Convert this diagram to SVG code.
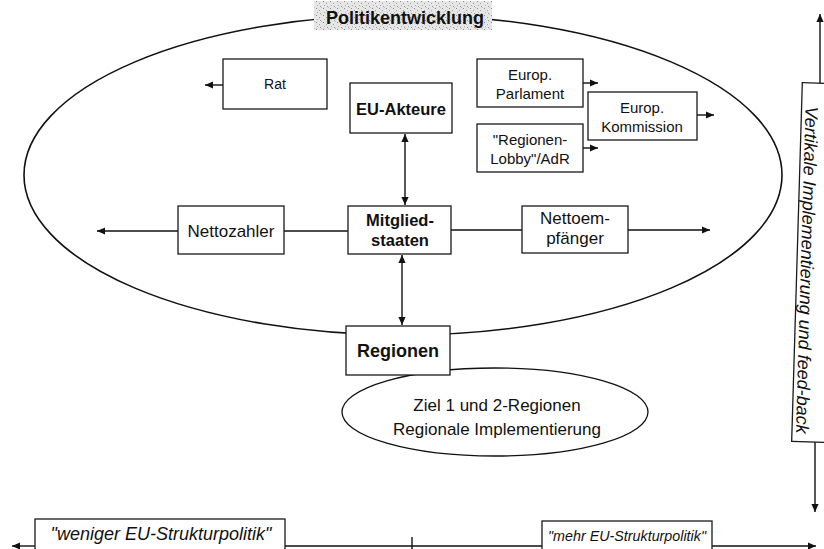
<svg xmlns="http://www.w3.org/2000/svg" width="824" height="549" viewBox="0 0 824 549">
<style>
  text { font-family: "Liberation Sans", Arial, sans-serif; fill: #111; text-anchor: middle; }
  .box { fill: #fff; stroke: #1a1a1a; stroke-width: 1.3; }
  .b { font-weight: bold; }
  .n14 { font-size: 14px; }
  .n15 { font-size: 15px; }
  .n17 { font-size: 17px; }
  .it { font-style: italic; }
  .ln { fill: none; stroke: #111; stroke-width: 1.4; }
  .arr { fill: none; stroke: #111; stroke-width: 1.4; marker-end: url(#ah); }
  .darr { fill: none; stroke: #111; stroke-width: 1.4; marker-start: url(#ah); marker-end: url(#ah); }
  .oval { fill: none; stroke: #111; stroke-width: 1.6; }
</style>
<defs>
  <marker id="ah" viewBox="0 0 10 10" refX="10" refY="5" markerWidth="9" markerHeight="8" orient="auto-start-reverse" markerUnits="userSpaceOnUse">
    <path d="M0,0.5 L10,5 L0,9.5 z" fill="#111"/>
  </marker>
  <pattern id="speck" width="7" height="7" patternUnits="userSpaceOnUse">
    <rect width="7" height="7" fill="#e6e6e6"/>
    <rect x="1" y="1" width="1" height="1" fill="#8a8a8a"/>
    <rect x="4" y="3" width="1" height="1" fill="#a0a0a0"/>
    <rect x="2" y="5" width="1" height="1" fill="#b0b0b0"/>
    <rect x="5" y="6" width="1" height="1" fill="#9a9a9a"/>
    <rect x="6" y="0" width="1" height="1" fill="#c0c0c0"/>
  </pattern>
</defs>

<rect width="824" height="549" fill="#fff"/>

<g id="politikentwicklung">
  <ellipse class="oval" cx="403" cy="175" rx="379" ry="160"/>
  <rect x="314" y="1" width="178" height="29" fill="url(#speck)"/>
  <text class="b" x="405" y="24" style="font-size:18px">Politikentwicklung</text>
</g>

<g id="connectors">
  <line class="arr" x1="223" y1="85" x2="205" y2="85"/>
  <line class="arr" x1="583" y1="83" x2="598" y2="83"/>
  <line class="arr" x1="697" y1="115" x2="714" y2="115"/>
  <line class="arr" x1="583" y1="148" x2="598" y2="148"/>
  <line class="darr" x1="405" y1="134" x2="405" y2="205"/>
  <line class="arr" x1="178" y1="231" x2="97" y2="231"/>
  <line class="ln" x1="284" y1="231" x2="348" y2="231"/>
  <line class="ln" x1="451" y1="230" x2="522" y2="230"/>
  <line class="arr" x1="628" y1="230" x2="710" y2="230"/>
  <line class="darr" x1="402" y1="255" x2="402" y2="325"/>
  <line class="arr" x1="820" y1="84" x2="820" y2="14"/>
  <line class="arr" x1="815" y1="442" x2="815" y2="512"/>
  <line class="arr" x1="35" y1="546" x2="12" y2="546"/>
  <line class="ln" x1="285" y1="546" x2="542" y2="546"/>
  <line class="ln" x1="412" y1="537" x2="412" y2="552"/>
  <line class="arr" x1="712" y1="546" x2="816" y2="546"/>
</g>

<g id="rat">
  <rect class="box" x="223" y="59" width="104" height="50"/>
  <text class="n14" x="275" y="89">Rat</text>
</g>

<g id="eu-akteure">
  <rect class="box" x="350" y="83" width="102" height="50"/>
  <text class="b" x="401" y="115" style="font-size:16.5px">EU-Akteure</text>
</g>

<g id="parlament">
  <rect class="box" x="477" y="59" width="106" height="48"/>
  <text class="n15" x="530" y="80">Europ.</text>
  <text class="n15" x="530" y="99">Parlament</text>
</g>

<g id="kommission">
  <rect class="box" x="588" y="92" width="109" height="48"/>
  <text class="n15" x="642" y="113">Europ.</text>
  <text class="n15" x="642" y="132">Kommission</text>
</g>

<g id="lobby">
  <rect class="box" x="477" y="124" width="106" height="48"/>
  <text class="n15" x="530" y="145">"Regionen-</text>
  <text class="n15" x="530" y="164">Lobby"/AdR</text>
</g>

<g id="nettozahler">
  <rect class="box" x="178" y="206" width="106" height="48"/>
  <text class="n17" x="231" y="237">Nettozahler</text>
</g>

<g id="mitgliedstaaten">
  <rect class="box" x="348" y="206" width="103" height="48"/>
  <text class="b" x="400" y="226" style="font-size:16.5px">Mitglied-</text>
  <text class="b" x="400" y="246" style="font-size:16.5px">staaten</text>
</g>

<g id="nettoempfaenger">
  <rect class="box" x="522" y="206" width="106" height="47"/>
  <text class="n17" x="575" y="224">Nettoem-</text>
  <text class="n17" x="575" y="244">pfänger</text>
</g>

<g id="ziel">
  <ellipse class="oval" cx="495" cy="412" rx="153" ry="44" style="stroke-width:1.3"/>
  <text class="n17" x="497" y="411">Ziel 1 und 2-Regionen</text>
  <text class="n17" x="497" y="435">Regionale Implementierung</text>
</g>

<g id="regionen">
  <rect class="box" x="346" y="326" width="104" height="49"/>
  <text class="b" x="398" y="357" style="font-size:18px">Regionen</text>
</g>

<g id="vertikal" transform="rotate(1.7 812 262)">
  <rect class="box" x="797" y="83" width="45" height="359"/>
  <text class="it" transform="translate(801 434) rotate(90)" style="font-size:18px;text-anchor:end">Vertikale Implementierung und feed-back</text>
</g>

<g id="weniger">
  <rect class="box" x="35" y="519" width="250" height="40"/>
  <text class="it" x="161" y="540" style="font-size:18px">"weniger EU-Strukturpolitik"</text>
</g>

<g id="mehr">
  <rect class="box" x="542" y="521" width="170" height="40"/>
  <text class="it" x="627" y="541" style="font-size:15.5px" textLength="158" lengthAdjust="spacingAndGlyphs">"mehr EU-Strukturpolitik"</text>
</g>
</svg>
